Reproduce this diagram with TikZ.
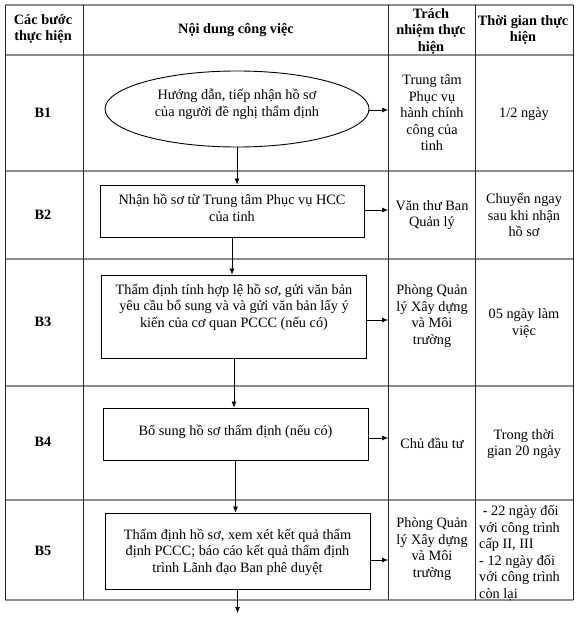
\documentclass[tikz,border=0pt]{standalone}
\usepackage{fontspec}
\setmainfont{Liberation Serif}
\usetikzlibrary{arrows.meta,shapes.geometric}
\tikzset{
  txt/.style={font=\fontsize{14.3}{16.5}\selectfont, align=center, inner sep=0pt},
  hdr/.style={font=\bfseries\fontsize{14.3}{16.5}\selectfont, align=center, inner sep=0pt},
  ltxt/.style={font=\fontsize{14.3}{16.5}\selectfont, align=left, inner sep=0pt, anchor=west},
  hline/.style={draw=black!45, line width=1.3pt},
  vline/.style={draw=black!85, line width=0.7pt},
  boxn/.style={draw=black, line width=0.9pt, rectangle, inner sep=0pt},
  ellip/.style={draw=black, line width=0.9pt, ellipse, inner sep=0pt},
  arr/.style={draw=black, line width=0.6pt, -{Latex[length=6pt,width=5pt]}}
}
\begin{document}
\begin{tikzpicture}[x=1pt,y=-1pt]
\useasboundingbox (0,0) rectangle (576,620);
% table grid
\foreach \yy in {5,55,171,259,386,500,600} \draw[hline] (5,\yy) -- (573,\yy);
\foreach \xx in {5,83,388,475,573} \draw[vline] (\xx,5) -- (\xx,600);
\coordinate (colC) at (388,0);
% header
\node[hdr] (h1) at (43,29) {Các bước\\thực hiện};
\node[hdr] (h2) at (236,30) {Nội dung công việc};
\node[hdr] (h3) at (431,31) {Trách\\nhiệm thực\\hiện};
\node[hdr] (h4) at (523,30) {Thời gian thực\\hiện};
% step labels
\node[hdr] (s1) at (43,113) {B1};
\node[hdr] (s2) at (43,215) {B2};
\node[hdr] (s3) at (43,322) {B3};
\node[hdr] (s4) at (43,442) {B4};
\node[hdr] (s5) at (43,551) {B5};
% flow shapes
\node[ellip, minimum width=264pt, minimum height=76pt] (e1) at (237,109) {};
\node[txt] (t1) at (237,104) {Hướng dẫn, tiếp nhận hồ sơ\\của người đề nghị thẩm định};
\node[boxn, minimum width=264pt, minimum height=52pt] (b2) at (232,211) {};
\node[txt] (t2) at (232,208) {Nhận hồ sơ từ Trung tâm Phục vụ HCC\\của tinh};
\node[boxn, minimum width=265pt, minimum height=83pt] (b3) at (234,316.5) {};
\node[txt] (t3) at (234,307) {Thẩm định tính hợp lệ hồ sơ, gửi văn bản\\yêu cầu bổ sung và và gửi văn bản lấy ý\\kiến của cơ quan PCCC (nếu có)};
\node[boxn, minimum width=265pt, minimum height=52pt] (b4) at (235.5,434) {};
\node[txt] (t4) at (235.5,432) {Bổ sung hồ sơ thẩm định (nếu có)};
\node[boxn, minimum width=265pt, minimum height=76pt] (b5) at (237.5,551) {};
\node[txt] (t5) at (237.5,552) {Thẩm định hồ sơ, xem xét kết quả thẩm\\định PCCC; báo cáo kết quả thẩm định\\trình Lãnh đạo Ban phê duyệt};
\coordinate (endpt) at (237.5,613);
% vertical connectors
\draw[arr] (e1) -- (e1 |- b2.north);
\draw[arr] (b2.south) -- (b2.south |- b3.north);
\draw[arr] (b3.south) -- (b3.south |- b4.north);
\draw[arr] (b4.south) -- (b4.south |- b5.north);
\draw[arr] (b5.south) -- (endpt);
% horizontal connectors
\draw[arr] ([yshift=-1pt]e1.east) -- ([yshift=-1pt]e1.east -| colC);
\draw[arr] ([yshift=1pt]b2.east) -- ([yshift=1pt]b2.east -| colC);
\draw[arr] ([yshift=-3.5pt]b3.east) -- ([yshift=-3.5pt]b3.east -| colC);
\draw[arr] ([yshift=-4pt]b4.east) -- ([yshift=-4pt]b4.east -| colC);
\draw[arr] ([yshift=-9pt]b5.east) -- ([yshift=-9pt]b5.east -| colC);
% responsibility
\node[txt] (r1) at (432,113) {Trung tâm\\Phục vụ\\hành chính\\công của\\tinh};
\node[txt] (r2) at (432,215) {Văn thư Ban\\Quản lý};
\node[txt] (r3) at (432,316) {Phòng Quản\\lý Xây dựng\\và Môi\\trường};
\node[txt] (r4) at (432,443) {Chủ đầu tư};
\node[txt] (r5) at (432,549) {Phòng Quản\\lý Xây dựng\\và Môi\\trường};
% time
\node[txt] (d1) at (524,114) {1/2 ngày};
\node[txt] (d2) at (524,215) {Chuyển ngay\\sau khi nhận\\hồ sơ};
\node[txt] (d3) at (524,323) {05 ngày làm\\việc};
\node[txt] (d4) at (524,444) {Trong thời\\gian 20 ngày};
\node[ltxt] (d5) at (479,553) {\ - 22 ngày đối\\với công trình\\cấp II, III\\- 12 ngày đối\\với công trình\\còn lại};
\end{tikzpicture}
\end{document}
